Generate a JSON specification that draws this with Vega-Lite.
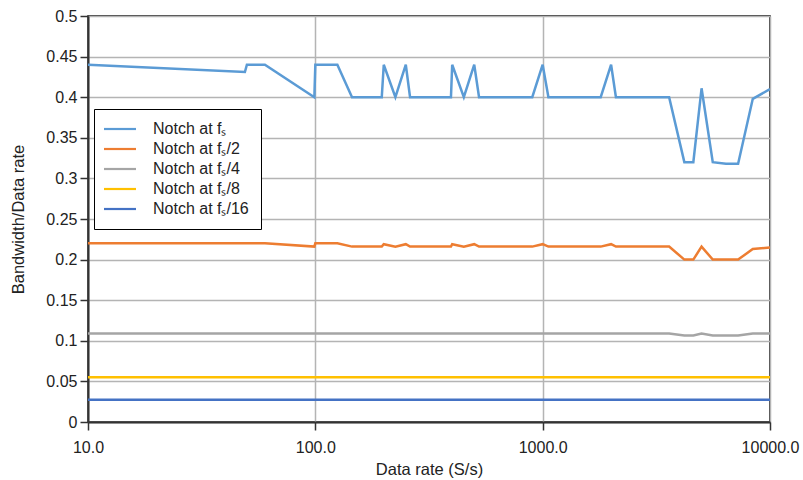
{
  "$schema": "https://vega.github.io/schema/vega-lite/v6.json",
  "width": 682,
  "height": 406,
  "autosize": "none",
  "padding": {"left": 88, "top": 16, "right": 33, "bottom": 58},
  "background": "white",
  "config": {
    "font": "Liberation Sans",
    "view": {"stroke": "black", "strokeWidth": 1.5},
    "axis": {
      "labelFont": "Liberation Sans",
      "titleFont": "Liberation Sans",
      "labelFontSize": 16,
      "titleFontSize": 16.5,
      "titleFontWeight": "normal",
      "labelColor": "#222",
      "titleColor": "#222",
      "gridColor": "#b4b4b4",
      "gridWidth": 1.5,
      "gridOpacity": 1,
      "domainColor": "#333",
      "domainWidth": 2,
      "tickColor": "#333",
      "tickWidth": 1.5,
      "tickSize": 8
    }
  },
  "data": {
    "values": [
      {"rate": 10, "ratio": 0.44, "series": "Notch at fₛ"},
      {"rate": 49, "ratio": 0.431, "series": "Notch at fₛ"},
      {"rate": 50, "ratio": 0.44, "series": "Notch at fₛ"},
      {"rate": 60, "ratio": 0.44, "series": "Notch at fₛ"},
      {"rate": 99, "ratio": 0.4, "series": "Notch at fₛ"},
      {"rate": 100, "ratio": 0.44, "series": "Notch at fₛ"},
      {"rate": 125, "ratio": 0.44, "series": "Notch at fₛ"},
      {"rate": 145, "ratio": 0.4, "series": "Notch at fₛ"},
      {"rate": 196, "ratio": 0.4, "series": "Notch at fₛ"},
      {"rate": 200, "ratio": 0.44, "series": "Notch at fₛ"},
      {"rate": 225, "ratio": 0.4, "series": "Notch at fₛ"},
      {"rate": 250, "ratio": 0.44, "series": "Notch at fₛ"},
      {"rate": 261, "ratio": 0.4, "series": "Notch at fₛ"},
      {"rate": 395, "ratio": 0.4, "series": "Notch at fₛ"},
      {"rate": 400, "ratio": 0.44, "series": "Notch at fₛ"},
      {"rate": 450, "ratio": 0.4, "series": "Notch at fₛ"},
      {"rate": 500, "ratio": 0.44, "series": "Notch at fₛ"},
      {"rate": 525, "ratio": 0.4, "series": "Notch at fₛ"},
      {"rate": 900, "ratio": 0.4, "series": "Notch at fₛ"},
      {"rate": 1000, "ratio": 0.44, "series": "Notch at fₛ"},
      {"rate": 1060, "ratio": 0.4, "series": "Notch at fₛ"},
      {"rate": 1800, "ratio": 0.4, "series": "Notch at fₛ"},
      {"rate": 2000, "ratio": 0.44, "series": "Notch at fₛ"},
      {"rate": 2100, "ratio": 0.4, "series": "Notch at fₛ"},
      {"rate": 3600, "ratio": 0.4, "series": "Notch at fₛ"},
      {"rate": 4200, "ratio": 0.32, "series": "Notch at fₛ"},
      {"rate": 4600, "ratio": 0.32, "series": "Notch at fₛ"},
      {"rate": 5000, "ratio": 0.411, "series": "Notch at fₛ"},
      {"rate": 5600, "ratio": 0.32, "series": "Notch at fₛ"},
      {"rate": 6400, "ratio": 0.318, "series": "Notch at fₛ"},
      {"rate": 7240, "ratio": 0.318, "series": "Notch at fₛ"},
      {"rate": 8400, "ratio": 0.398, "series": "Notch at fₛ"},
      {"rate": 10000, "ratio": 0.41, "series": "Notch at fₛ"},

      {"rate": 10, "ratio": 0.22, "series": "Notch at fₛ/2"},
      {"rate": 60, "ratio": 0.22, "series": "Notch at fₛ/2"},
      {"rate": 99, "ratio": 0.216, "series": "Notch at fₛ/2"},
      {"rate": 100, "ratio": 0.22, "series": "Notch at fₛ/2"},
      {"rate": 125, "ratio": 0.22, "series": "Notch at fₛ/2"},
      {"rate": 145, "ratio": 0.216, "series": "Notch at fₛ/2"},
      {"rate": 196, "ratio": 0.216, "series": "Notch at fₛ/2"},
      {"rate": 200, "ratio": 0.219, "series": "Notch at fₛ/2"},
      {"rate": 225, "ratio": 0.216, "series": "Notch at fₛ/2"},
      {"rate": 250, "ratio": 0.219, "series": "Notch at fₛ/2"},
      {"rate": 261, "ratio": 0.216, "series": "Notch at fₛ/2"},
      {"rate": 395, "ratio": 0.216, "series": "Notch at fₛ/2"},
      {"rate": 400, "ratio": 0.219, "series": "Notch at fₛ/2"},
      {"rate": 450, "ratio": 0.216, "series": "Notch at fₛ/2"},
      {"rate": 500, "ratio": 0.219, "series": "Notch at fₛ/2"},
      {"rate": 525, "ratio": 0.216, "series": "Notch at fₛ/2"},
      {"rate": 900, "ratio": 0.216, "series": "Notch at fₛ/2"},
      {"rate": 1000, "ratio": 0.219, "series": "Notch at fₛ/2"},
      {"rate": 1060, "ratio": 0.216, "series": "Notch at fₛ/2"},
      {"rate": 1800, "ratio": 0.216, "series": "Notch at fₛ/2"},
      {"rate": 2000, "ratio": 0.219, "series": "Notch at fₛ/2"},
      {"rate": 2100, "ratio": 0.216, "series": "Notch at fₛ/2"},
      {"rate": 3600, "ratio": 0.216, "series": "Notch at fₛ/2"},
      {"rate": 4200, "ratio": 0.2, "series": "Notch at fₛ/2"},
      {"rate": 4600, "ratio": 0.2, "series": "Notch at fₛ/2"},
      {"rate": 5000, "ratio": 0.216, "series": "Notch at fₛ/2"},
      {"rate": 5600, "ratio": 0.2, "series": "Notch at fₛ/2"},
      {"rate": 7240, "ratio": 0.2, "series": "Notch at fₛ/2"},
      {"rate": 8400, "ratio": 0.213, "series": "Notch at fₛ/2"},
      {"rate": 10000, "ratio": 0.215, "series": "Notch at fₛ/2"},

      {"rate": 10, "ratio": 0.109, "series": "Notch at fₛ/4"},
      {"rate": 3600, "ratio": 0.109, "series": "Notch at fₛ/4"},
      {"rate": 4200, "ratio": 0.1065, "series": "Notch at fₛ/4"},
      {"rate": 4600, "ratio": 0.1065, "series": "Notch at fₛ/4"},
      {"rate": 5000, "ratio": 0.109, "series": "Notch at fₛ/4"},
      {"rate": 5600, "ratio": 0.1065, "series": "Notch at fₛ/4"},
      {"rate": 7240, "ratio": 0.1065, "series": "Notch at fₛ/4"},
      {"rate": 8400, "ratio": 0.109, "series": "Notch at fₛ/4"},
      {"rate": 10000, "ratio": 0.109, "series": "Notch at fₛ/4"},

      {"rate": 10, "ratio": 0.055, "series": "Notch at fₛ/8"},
      {"rate": 10000, "ratio": 0.055, "series": "Notch at fₛ/8"},

      {"rate": 10, "ratio": 0.0275, "series": "Notch at fₛ/16"},
      {"rate": 10000, "ratio": 0.0275, "series": "Notch at fₛ/16"}
    ]
  },
  "mark": {"type": "line", "strokeWidth": 2.5, "clip": true},
  "encoding": {
    "x": {
      "field": "rate",
      "type": "quantitative",
      "scale": {"type": "log", "domain": [10, 10000], "nice": false},
      "axis": {
        "title": "Data rate  (S/s)",
        "values": [10, 100, 1000, 10000],
        "format": ".1f",
        "labelPadding": 9,
        "titlePadding": 6,
        "labelFlush": false,
        "labelOverlap": false
      }
    },
    "y": {
      "field": "ratio",
      "type": "quantitative",
      "scale": {"domain": [0, 0.5], "nice": false},
      "axis": {
        "title": "Bandwidth/Data rate",
        "values": [0, 0.05, 0.1, 0.15, 0.2, 0.25, 0.3, 0.35, 0.4, 0.45, 0.5],
        "labelExpr": "format(datum.value, '~g')",
        "labelPadding": 3,
        "titlePadding": 19
      }
    },
    "color": {
      "field": "series",
      "type": "nominal",
      "sort": ["Notch at fₛ", "Notch at fₛ/2", "Notch at fₛ/4", "Notch at fₛ/8", "Notch at fₛ/16"],
      "scale": {
        "domain": ["Notch at fₛ", "Notch at fₛ/2", "Notch at fₛ/4", "Notch at fₛ/8", "Notch at fₛ/16"],
        "range": ["#5b9bd5", "#ed7d31", "#a5a5a5", "#ffc000", "#4472c4"]
      },
      "legend": {
        "title": null,
        "orient": "none",
        "legendX": 6,
        "legendY": 93,
        "strokeColor": "black",
        "fillColor": "white",
        "padding": 12,
        "symbolType": "M-4,0H4",
        "symbolSize": 64,
        "symbolOffset": 6,
        "symbolStrokeWidth": 2.2,
        "labelFont": "Liberation Sans",
        "labelFontSize": 16,
        "labelColor": "#222",
        "labelOffset": 25,
        "rowPadding": 4,
        "labelLimit": 300
      }
    }
  }
}
